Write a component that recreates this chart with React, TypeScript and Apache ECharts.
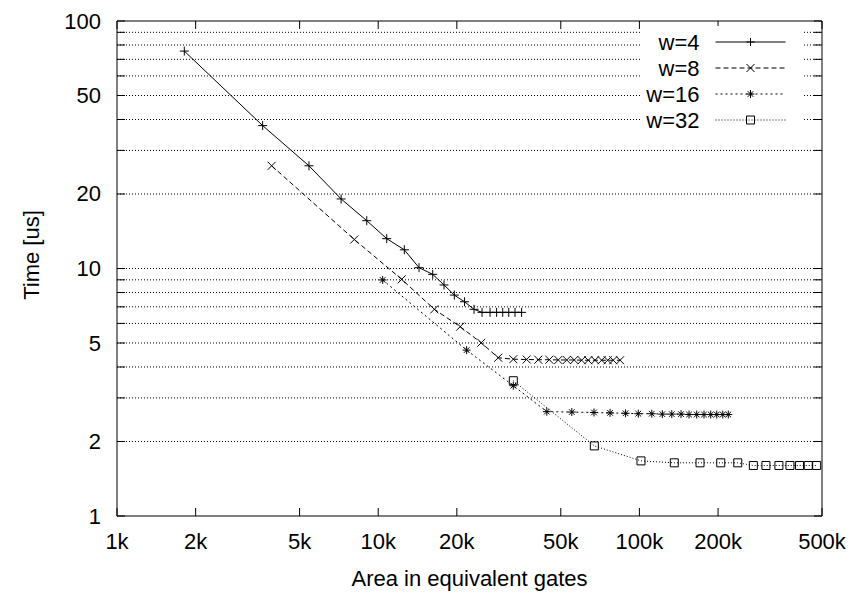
import React, { useEffect, useRef } from 'react';
import * as echarts from 'echarts';

const seriesNames = ['w=4', 'w=8', 'w=16', 'w=32'];

const area4 = [1810, 3610, 5430, 7210, 9040, 10780, 12590, 14330, 16170, 17860, 19560, 21400, 23270, 24970, 26800, 28400, 29970, 31600, 33400, 35400];
const time4 = [75.6, 37.8, 26.0, 19.1, 15.6, 13.2, 11.9, 10.08, 9.47, 8.58, 7.81, 7.34, 6.84, 6.65, 6.65, 6.65, 6.65, 6.65, 6.65, 6.65];

const area8 = [3910, 8100, 12300, 16400, 20600, 24800, 28800, 32900, 37000, 41000, 45200, 48900, 52700, 56300, 60100, 63700, 67600, 71700, 75600, 79400, 84300];
const time8 = [26.0, 13.1, 9.04, 6.84, 5.82, 5.01, 4.36, 4.30, 4.29, 4.28, 4.28, 4.27, 4.27, 4.27, 4.26, 4.26, 4.26, 4.26, 4.26, 4.26, 4.26];

const area16 = [10400, 21800, 32900, 44200, 55100, 67000, 77200, 88500, 99000, 111500, 122400, 133000, 144300, 154900, 165700, 176700, 187500, 197700, 208500, 218900];
const time16 = [8.99, 4.68, 3.36, 2.64, 2.63, 2.62, 2.61, 2.60, 2.59, 2.59, 2.58, 2.58, 2.58, 2.57, 2.57, 2.57, 2.57, 2.57, 2.57, 2.57];

const area32 = [32900, 67200, 101400, 136000, 170600, 204800, 237900, 273000, 305000, 342000, 377000, 410000, 443000, 477000];
const time32 = [3.52, 1.92, 1.67, 1.64, 1.64, 1.64, 1.64, 1.60, 1.60, 1.60, 1.60, 1.60, 1.60, 1.60];

const xTickValues = [1000, 2000, 5000, 10000, 20000, 50000, 100000, 200000, 500000];
const xTickLabels = ['1k', '2k', '5k', '10k', '20k', '50k', '100k', '200k', '500k'];
const yTickValues = [1, 2, 3, 4, 5, 6, 7, 8, 9, 10, 20, 30, 40, 50, 60, 70, 80, 90, 100];
const yLabelValues = [1, 2, 5, 10, 20, 50, 100];
const yLabelTexts = ['1', '2', '5', '10', '20', '50', '100'];

const xTitle = 'Area in equivalent gates';
const yTitle = 'Time [us]';

const X_MIN = 1000;
const X_MAX = 500000;
const Y_MIN = 1;
const Y_MAX = 100;

const FONT = '"Liberation Sans", Arial, Helvetica, sans-serif';
const FONT_SIZE = 22;
const TICK = 8;

const SYM_PLUS = 'path://M0,5L10,5M5,0L5,10';
const SYM_CROSS = 'path://M0,0L10,10M10,0L0,10';
const SYM_STAR = 'path://M0,5L10,5M5,0L5,10M1.5,1.5L8.5,8.5M8.5,1.5L1.5,8.5';
const SYM_SQUARE = 'path://M0,0L10,0L10,10L0,10Z';

function lineSeries(name: string, xs: number[], ys: number[], symbol: string, size: number, dash: any) {
  return {
    name,
    type: 'line',
    data: xs.map((x, i) => [x, ys[i]]),
    symbol,
    symbolSize: size,
    showSymbol: true,
    showAllSymbol: true,
    clip: false,
    silent: true,
    z: 3,
    lineStyle: { color: '#000', width: 1, type: dash },
    itemStyle: { color: 'transparent', borderColor: '#000', borderWidth: 1 },
    emphasis: { disabled: true },
  };
}

export default function App() {
  const ref = useRef<HTMLDivElement>(null);

  useEffect(() => {
    document.body.style.margin = '0';
    if (!ref.current) return;
    const chart = echarts.init(ref.current, null, { renderer: 'svg' });

    const option: any = {
      animation: false,
      backgroundColor: '#fff',
      grid: {
        left: 117,
        top: 21,
        width: 705,
        height: 495,
        show: true,
        borderColor: '#000',
        borderWidth: 1,
        backgroundColor: 'transparent',
      },
      xAxis: {
        type: 'log',
        logBase: 10,
        min: X_MIN,
        max: X_MAX,
        axisLine: { show: false },
        axisTick: { show: false },
        axisLabel: { show: false },
        splitLine: { show: false },
      },
      yAxis: {
        type: 'log',
        logBase: 10,
        min: Y_MIN,
        max: Y_MAX,
        axisLine: { show: false },
        axisTick: { show: false },
        axisLabel: { show: false },
        splitLine: { show: false },
      },
      legend: {
        data: seriesNames,
        orient: 'vertical',
        align: 'right',
        right: 50,
        top: 26,
        itemWidth: 70,
        itemHeight: 10,
        itemGap: 4,
        padding: [5, 16, 5, 5],
        backgroundColor: '#fff',
        selectedMode: false,
        lineStyle: { width: 1 },
        itemStyle: { borderWidth: 1 },
        textStyle: {
          fontFamily: FONT,
          fontSize: FONT_SIZE,
          color: '#000',
          lineHeight: 22,
          padding: [0, 11, 0, 0],
        },
      },
      graphic: [
        {
          type: 'text',
          x: 31,
          y: 255,
          rotation: Math.PI / 2,
          style: {
            text: yTitle,
            align: 'center',
            verticalAlign: 'middle',
            fontFamily: FONT,
            fontSize: FONT_SIZE,
            fill: '#000',
          },
        },
        {
          type: 'text',
          x: 469.5,
          y: 578,
          style: {
            text: xTitle,
            align: 'center',
            verticalAlign: 'middle',
            fontFamily: FONT,
            fontSize: FONT_SIZE,
            fill: '#000',
          },
        },
      ],
      series: [
        {
          name: 'xTicks',
          type: 'custom',
          coordinateSystem: 'cartesian2d',
          silent: true,
          clip: false,
          z: 1,
          data: xTickValues.map((v) => [v, Y_MIN]),
          renderItem: (params: any, api: any) => {
            const v = api.value(0);
            const b = api.coord([v, Y_MIN]);
            const t = api.coord([v, Y_MAX]);
            const st = { stroke: '#000', lineWidth: 1 };
            return {
              type: 'group',
              children: [
                { type: 'line', shape: { x1: b[0], y1: b[1], x2: b[0], y2: b[1] - TICK }, style: st },
                { type: 'line', shape: { x1: t[0], y1: t[1], x2: t[0], y2: t[1] + TICK }, style: st },
                {
                  type: 'text',
                  x: b[0],
                  y: b[1] + 25,
                  style: {
                    text: xTickLabels[params.dataIndex],
                    align: 'center',
                    verticalAlign: 'middle',
                    fontFamily: FONT,
                    fontSize: FONT_SIZE,
                    fill: '#000',
                  },
                },
              ],
            };
          },
        },
        {
          name: 'yTicks',
          type: 'custom',
          coordinateSystem: 'cartesian2d',
          silent: true,
          clip: false,
          z: 1,
          data: yTickValues.map((v) => [X_MIN, v]),
          renderItem: (params: any, api: any) => {
            const v = api.value(1);
            const l = api.coord([X_MIN, v]);
            const r = api.coord([X_MAX, v]);
            const st = { stroke: '#000', lineWidth: 1 };
            const children: any[] = [];
            if (v > Y_MIN && v < Y_MAX) {
              children.push({
                type: 'line',
                shape: { x1: l[0], y1: l[1], x2: r[0], y2: r[1] },
                style: { stroke: '#000', lineWidth: 1, lineDash: [1, 2] },
              });
            }
            children.push({ type: 'line', shape: { x1: l[0], y1: l[1], x2: l[0] + TICK, y2: l[1] }, style: st });
            children.push({ type: 'line', shape: { x1: r[0], y1: r[1], x2: r[0] - TICK, y2: r[1] }, style: st });
            const li = yLabelValues.indexOf(v);
            if (li >= 0) {
              children.push({
                type: 'text',
                x: l[0] - 16,
                y: l[1],
                style: {
                  text: yLabelTexts[li],
                  align: 'right',
                  verticalAlign: 'middle',
                  fontFamily: FONT,
                  fontSize: FONT_SIZE,
                  fill: '#000',
                },
              });
            }
            return { type: 'group', children };
          },
        },
        lineSeries('w=4', area4, time4, SYM_PLUS, 9, 'solid'),
        lineSeries('w=8', area8, time8, SYM_CROSS, 8, [5, 3]),
        lineSeries('w=16', area16, time16, SYM_STAR, 8, [2, 3]),
        lineSeries('w=32', area32, time32, SYM_SQUARE, 8, [1, 2]),
      ],
    };

    chart.setOption(option);
    return () => {
      chart.dispose();
    };
  }, []);

  return <div ref={ref} style={{ width: 852, height: 602 }} />;
}
